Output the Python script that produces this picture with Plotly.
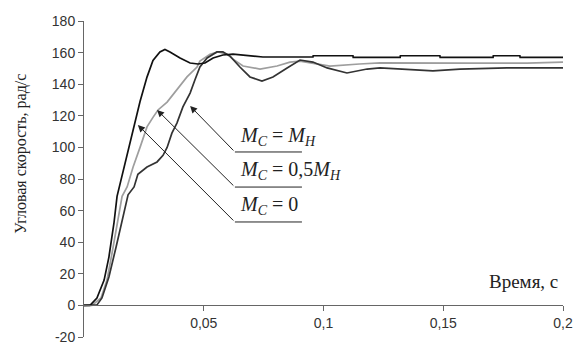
import plotly.graph_objects as go

# M_C = 0 (fastest, black)
t_m0 = [0, 0.0025, 0.0054, 0.0084, 0.0104, 0.0125, 0.0138, 0.0171, 0.0205, 0.0234, 0.0263,
        0.0288, 0.0317, 0.0338, 0.0359, 0.0401, 0.0443, 0.0476, 0.0505, 0.0539, 0.058, 0.0622,
        0.0747, 0.0956, 0.0957, 0.1123, 0.1124, 0.132, 0.1321, 0.1486, 0.1487, 0.1708, 0.1709,
        0.182, 0.1821, 0.2]
v_m0 = [0, 0, 4.7, 16, 30.6, 52, 69, 90, 111, 129, 144.5,
        155, 160.4, 162, 160.4, 156.6, 153.4, 152.8, 153.4, 156.6, 158.5, 159,
        157.2, 157.2, 158, 158, 157, 157, 158, 158, 157, 157, 158,
        158, 157, 157]

# M_C = 0,5 M_H (grey)
t_m05 = [0, 0.0033, 0.0071, 0.0096, 0.0117, 0.0138, 0.0159, 0.018, 0.0205, 0.0234, 0.0263,
         0.0288, 0.0309, 0.0347, 0.0388, 0.043, 0.0472, 0.0484, 0.0526, 0.056, 0.0597, 0.0622,
         0.0664, 0.0735, 0.0806, 0.086, 0.0902, 0.0965, 0.1027, 0.115, 0.1236, 0.16, 0.185, 0.2]
v_m05 = [0, 0, 4.7, 16, 33, 52, 69, 75, 87.6, 100, 113,
         119, 123.7, 128.7, 136.3, 144.6, 150.9, 154.6, 159, 160.4, 159, 155.9,
         151.5, 149.6, 151.5, 154, 154.6, 152.8, 151.5, 152.8, 153.5, 153.3, 153.3, 154]

# M_C = M_H (slowest, dark)
t_m1 = [0, 0.0042, 0.0054, 0.0075, 0.0104, 0.0134, 0.0159, 0.0184, 0.0209, 0.0225, 0.0263,
        0.0305, 0.033, 0.0347, 0.0367, 0.0388, 0.0413, 0.0443, 0.0463, 0.0484, 0.0514, 0.0555,
        0.058, 0.061, 0.0651, 0.0693, 0.0743, 0.0789, 0.0848, 0.0902, 0.0956, 0.1015, 0.1098,
        0.1182, 0.1236, 0.1457, 0.157, 0.1766, 0.1958, 0.2]
v_m1 = [0, 0, 0.3, 4.7, 18, 37, 54, 70, 75, 83, 87.6,
        90.8, 95, 100, 109, 115.4, 125.6, 134.4, 142.7, 150.9, 156.6, 160.4,
        160.4, 157.8, 150.9, 144.6, 142, 144.6, 150.3, 155.3, 154, 150.3, 147.1,
        149.6, 150.3, 148.4, 149.6, 150.3, 150.3, 150.3]

y_ticks = [-20, 0, 20, 40, 60, 80, 100, 120, 140, 160, 180]
y_ticktext = ["-20", "0", "20", "40", "60", "80", "100", "120", "140", "160", "180"]
x_ticks = [0.05, 0.1, 0.15, 0.2]
x_ticktext = ["0,05", "0,1", "0,15", "0,2"]

labels = ["<i>M</i><sub><i>С</i></sub> = <i>M</i><sub><i>Н</i></sub>",
          "<i>M</i><sub><i>С</i></sub> = 0,5<i>M</i><sub><i>Н</i></sub>",
          "<i>M</i><sub><i>С</i></sub> = 0"]

fig = go.Figure()
fig.add_trace(go.Scatter(x=t_m05, y=v_m05, mode="lines", line=dict(color="#9e9e9e", width=1.7)))
fig.add_trace(go.Scatter(x=t_m1, y=v_m1, mode="lines", line=dict(color="#333333", width=1.7)))
fig.add_trace(go.Scatter(x=t_m0, y=v_m0, mode="lines", line=dict(color="#111111", width=1.7)))

# arrows: tip (t, v) and tail (t, v); underline end t
arrows = [((0.0443, 126.2), (0.063, 97.1)),
          ((0.0305, 123.7), (0.063, 74.9)),
          ((0.0225, 114.2), (0.063, 52.8))]
underline_end = 0.091
label_y = [107.2, 85.1, 63.5]

annotations = []
shapes = []
for (tip, tail), lab, ly in zip(arrows, labels, label_y):
    annotations.append(dict(x=tip[0], y=tip[1], ax=tail[0], ay=tail[1], axref="x", ayref="y",
                            xref="x", yref="y", text="", showarrow=True, arrowhead=2,
                            arrowsize=1.4, arrowwidth=1, arrowcolor="#222222", standoff=0))
    shapes.append(dict(type="line", xref="x", yref="y", x0=tail[0], x1=underline_end,
                       y0=tail[1], y1=tail[1], line=dict(color="#222222", width=1)))
    annotations.append(dict(x=0.0645, y=ly, xref="x", yref="y", text=lab, showarrow=False,
                            xanchor="left", yanchor="middle",
                            font=dict(family="Liberation Serif", size=20, color="#222222")))

annotations.append(dict(x=-0.1315, y=96, xref="paper", yref="y", text="Угловая скорость, рад/с",
                        textangle=-90, showarrow=False, xanchor="center", yanchor="middle",
                        font=dict(family="Liberation Serif", size=16, color="#222222")))
annotations.append(dict(x=0.1837, y=15.4, xref="x", yref="y", text="Время, с",
                        showarrow=False, xanchor="center", yanchor="middle",
                        font=dict(family="Liberation Serif", size=19, color="#222222")))

fig.update_layout(
    width=574, height=344,
    margin=dict(l=84, r=11, t=21, b=7),
    paper_bgcolor="white", plot_bgcolor="white",
    showlegend=False,
    annotations=annotations, shapes=shapes,
    xaxis=dict(range=[0, 0.2], tickvals=x_ticks, ticktext=x_ticktext, showgrid=False,
               zeroline=False, showline=True, linecolor="#666666", linewidth=1,
               ticks="outside", ticklen=5, tickcolor="#666666",
               anchor="free", position=0.1, automargin=False, ticklabeloverflow="allow",
               tickfont=dict(family="Liberation Sans", size=14, color="#333333")),
    yaxis=dict(range=[-20, 180], tickvals=y_ticks, ticktext=y_ticktext, showgrid=False,
               zeroline=False, showline=True, linecolor="#666666", linewidth=1, automargin=False,
               ticks="outside", ticklen=5, tickcolor="#666666", ticklabeloverflow="allow",
               tickfont=dict(family="Liberation Sans", size=14, color="#333333")),
)

# remove the browser's default 8px page margin so the 574x344 figure fills the window
fig.write_html("out.html",
               config={"displayModeBar": False},
               post_script="document.documentElement.style.margin='0';"
                           "document.body.style.margin='0';"
                           "document.body.style.overflow='hidden';")
